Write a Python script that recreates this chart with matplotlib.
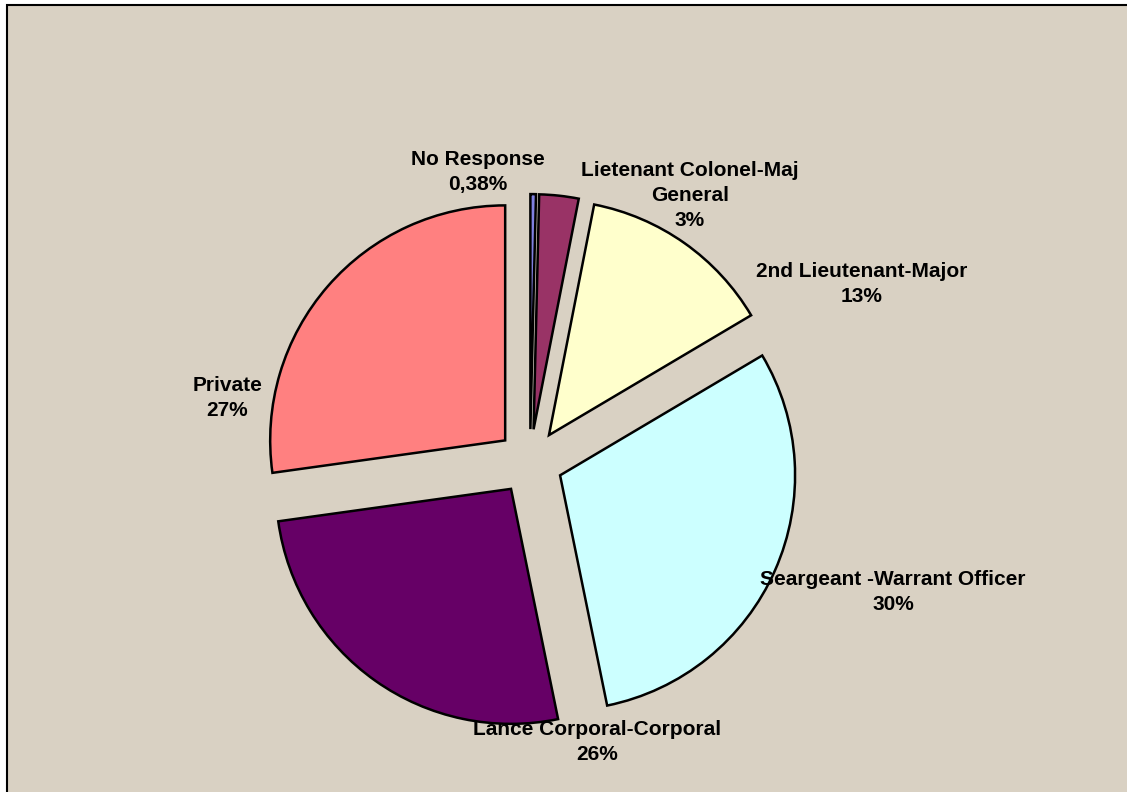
import matplotlib.pyplot as plt
from matplotlib.patches import Rectangle

# ranks of respondents, percent
ranks = ['No Response', 'Lietenant Colonel-Maj\nGeneral', '2nd Lieutenant-Major',
         'Seargeant -Warrant Officer', 'Lance Corporal-Corporal', 'Private']
shares = [0.38, 2.7, 13.4, 30.3, 26.0, 27.2]
pct_text = ['0,38%', '3%', '13%', '30%', '26%', '27%']
colors = ['#8080e0', '#993366', '#ffffcc', '#ccffff', '#660066', '#ff8080']

# label centres (data units, radius = 1)
label_xy = [(-0.221, 1.234), (0.681, 1.136), (1.413, 0.757),
            (1.545, -0.553), (0.285, -1.191), (-1.289, 0.272)]

W, H = 1127, 792
cx, cy, R = 530, 462, 235

fig = plt.figure(figsize=(W/100, H/100), dpi=100, facecolor='white')
bg = Rectangle((7/W, -0.1), 1.2, 1.1 - 5/H, transform=fig.transFigure,
               facecolor='#d9d1c3', edgecolor='black', lw=1.5, zorder=-5)
fig.patches.append(bg)

ax = fig.add_axes([0, 0, 1, 1], zorder=1)
ax.patch.set_visible(False)

wedges, _ = ax.pie(shares, colors=colors, startangle=90, counterclock=False,
                   explode=[0.14]*6, radius=1, normalize=True,
                   wedgeprops=dict(edgecolor='black', linewidth=1.8))

ax.set_xlim(-cx/R, (W-cx)/R)
ax.set_ylim(-(H-cy)/R, cy/R)
ax.set_aspect('equal')
ax.axis('off')

for name, pc, (x, y) in zip(ranks, pct_text, label_xy):
    ax.text(x, y, name + '\n' + pc, ha='center', va='center', fontsize=15,
            fontweight='bold', family='Liberation Sans', linespacing=1.4)

fig.savefig('out.png', dpi=100, facecolor=fig.get_facecolor())
